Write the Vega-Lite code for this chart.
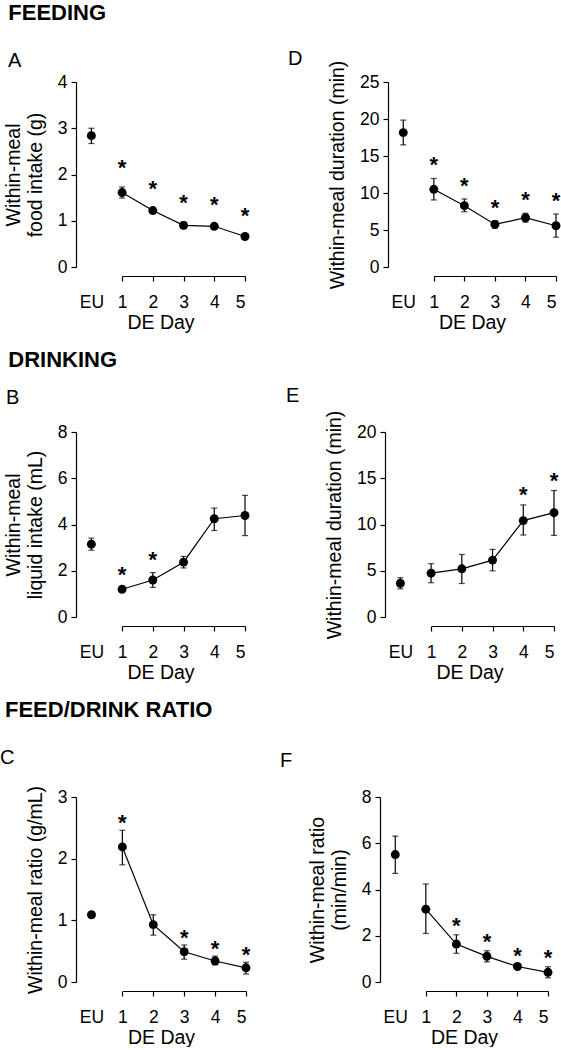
{
  "$schema": "https://vega.github.io/schema/vega-lite/v6.json",
  "padding": {"top": 2, "left": 0, "right": 0, "bottom": 0},
  "background": "white",
  "config": {
    "view": {"stroke": null},
    "font": "Liberation Sans",
    "axis": {
      "domainColor": "black", "tickColor": "black", "labelColor": "black", "titleColor": "black",
      "labelFont": "Liberation Sans", "titleFont": "Liberation Sans",
      "labelFontSize": 17.5, "titleFontSize": 19.5, "titleFontWeight": "normal",
      "grid": false, "tickSize": 5, "domainWidth": 1.2, "tickWidth": 1.2, "labelPadding": 4, "labelOverlap": false
    },
    "axisY": {"titlePadding": 12, "titleLineHeight": 22, "format": "d"},
    "axisX": {"titlePadding": 3, "labelPadding": 12},
    "title": {"font": "Liberation Sans", "color": "black"}
  },
  "datasets": {
    "A": [
      {"day": 0, "mean": 2.84, "lo": 2.67, "hi": 3.00, "sig": false},
      {"day": 1, "mean": 1.61, "lo": 1.49, "hi": 1.73, "sig": true},
      {"day": 2, "mean": 1.22, "lo": 1.17, "hi": 1.27, "sig": true},
      {"day": 3, "mean": 0.90, "lo": 0.83, "hi": 0.97, "sig": true},
      {"day": 4, "mean": 0.88, "lo": 0.83, "hi": 0.93, "sig": true},
      {"day": 5, "mean": 0.66, "lo": 0.62, "hi": 0.70, "sig": true}
    ],
    "D": [
      {"day": 0, "mean": 18.16, "lo": 16.49, "hi": 19.84, "sig": false},
      {"day": 1, "mean": 10.5, "lo": 9.06, "hi": 11.96, "sig": true},
      {"day": 2, "mean": 8.29, "lo": 7.47, "hi": 9.19, "sig": true},
      {"day": 3, "mean": 5.75, "lo": 5.25, "hi": 6.25, "sig": true},
      {"day": 4, "mean": 6.66, "lo": 6.06, "hi": 7.26, "sig": true},
      {"day": 5, "mean": 5.57, "lo": 4.03, "hi": 7.16, "sig": true}
    ],
    "B": [
      {"day": 0, "mean": 3.15, "lo": 2.89, "hi": 3.41, "sig": false},
      {"day": 1, "mean": 1.20, "lo": 1.13, "hi": 1.27, "sig": true},
      {"day": 2, "mean": 1.60, "lo": 1.28, "hi": 1.92, "sig": true},
      {"day": 3, "mean": 2.37, "lo": 2.12, "hi": 2.62, "sig": false},
      {"day": 4, "mean": 4.25, "lo": 3.74, "hi": 4.71, "sig": false},
      {"day": 5, "mean": 4.39, "lo": 3.52, "hi": 5.26, "sig": false}
    ],
    "E": [
      {"day": 0, "mean": 3.65, "lo": 3.05, "hi": 4.25, "sig": false},
      {"day": 1, "mean": 4.74, "lo": 3.71, "hi": 5.77, "sig": false},
      {"day": 2, "mean": 5.21, "lo": 3.62, "hi": 6.76, "sig": false},
      {"day": 3, "mean": 6.15, "lo": 4.99, "hi": 7.31, "sig": false},
      {"day": 4, "mean": 10.42, "lo": 8.86, "hi": 12.12, "sig": true},
      {"day": 5, "mean": 11.28, "lo": 8.82, "hi": 13.67, "sig": true}
    ],
    "C": [
      {"day": 0, "mean": 1.09, "lo": 1.06, "hi": 1.12, "sig": false},
      {"day": 1, "mean": 2.19, "lo": 1.90, "hi": 2.46, "sig": true},
      {"day": 2, "mean": 0.93, "lo": 0.76, "hi": 1.09, "sig": false},
      {"day": 3, "mean": 0.49, "lo": 0.37, "hi": 0.60, "sig": true},
      {"day": 4, "mean": 0.34, "lo": 0.28, "hi": 0.42, "sig": true},
      {"day": 5, "mean": 0.23, "lo": 0.13, "hi": 0.32, "sig": true}
    ],
    "F": [
      {"day": 0, "mean": 5.51, "lo": 4.70, "hi": 6.31, "sig": false},
      {"day": 1, "mean": 3.15, "lo": 2.10, "hi": 4.24, "sig": false},
      {"day": 2, "mean": 1.64, "lo": 1.24, "hi": 2.04, "sig": true},
      {"day": 3, "mean": 1.11, "lo": 0.87, "hi": 1.35, "sig": true},
      {"day": 4, "mean": 0.67, "lo": 0.60, "hi": 0.74, "sig": true},
      {"day": 5, "mean": 0.42, "lo": 0.18, "hi": 0.66, "sig": true}
    ]
  },
  "spacing": 17,
  "vconcat": [
    {
      "title": {"text": "FEEDING", "anchor": "start", "frame": "bounds", "dx": 5, "fontSize": 22, "fontWeight": "bold", "offset": 24},
      "bounds": "flush",
      "spacing": 143,
      "hconcat": [
        {
          "width": 169, "height": 185,
          "title": {"text": "A", "anchor": "start", "frame": "group", "dx": -68, "offset": 2, "fontSize": 20, "fontWeight": "normal"},
          "data": {"name": "A"},
          "encoding": {
            "x": {"field": "day", "type": "quantitative", "scale": {"domain": [-0.5, 5], "nice": false, "zero": false},
              "axis": {"values": [0, 1, 2, 3, 4, 5], "labelExpr": "datum.value == 0 ? 'EU' : datum.label", "tickOpacity": {"condition": {"test": "datum.value == 0", "value": 0}, "value": 1}, "title": "DE Day", "offset": 9, "domainDash": [122.91, 46.09], "domainDashOffset": 122.91}}
          },
          "layer": [
            {"transform": [{"filter": "datum.day >= 1"}], "mark": {"type": "line", "color": "black", "strokeWidth": 1.2},
              "encoding": {"y": {"field": "mean", "type": "quantitative", "title": ["Within-meal", "food intake (g)"], "scale": {"domain": [0, 4], "nice": false}, "axis": {"values": [0, 1, 2, 3, 4], "labelOverlap": false}}}},
            {"mark": {"type": "errorbar", "ticks": {"size": 6}, "color": "black", "thickness": 1.2},
              "encoding": {"y": {"field": "lo", "type": "quantitative", "title": ["Within-meal", "food intake (g)"], "axis": {"values": [0, 1, 2, 3, 4], "labelOverlap": false}}, "y2": {"field": "hi"}}},
            {"mark": {"type": "point", "filled": true, "color": "black", "size": 80, "opacity": 1},
              "encoding": {"y": {"field": "mean", "type": "quantitative", "title": ["Within-meal", "food intake (g)"], "axis": {"values": [0, 1, 2, 3, 4], "labelOverlap": false}}}},
            {"transform": [{"filter": "datum.sig"}], "mark": {"type": "text", "text": "*", "dy": -19, "fontSize": 22, "fontWeight": "bold", "baseline": "middle", "color": "black"},
              "encoding": {"y": {"field": "hi", "type": "quantitative", "title": ["Within-meal", "food intake (g)"], "axis": {"values": [0, 1, 2, 3, 4], "labelOverlap": false}}}}
          ]
        },
        {
          "width": 168, "height": 185,
          "title": {"text": "D", "anchor": "start", "frame": "group", "dx": -100, "offset": -9, "fontSize": 20, "fontWeight": "normal"},
          "data": {"name": "D"},
          "encoding": {
            "x": {"field": "day", "type": "quantitative", "scale": {"domain": [-0.5, 5], "nice": false, "zero": false},
              "axis": {"values": [0, 1, 2, 3, 4, 5], "labelExpr": "datum.value == 0 ? 'EU' : datum.label", "tickOpacity": {"condition": {"test": "datum.value == 0", "value": 0}, "value": 1}, "title": "DE Day", "offset": 9, "domainDash": [122.18, 45.82], "domainDashOffset": 122.18}}
          },
          "layer": [
            {"transform": [{"filter": "datum.day >= 1"}], "mark": {"type": "line", "color": "black", "strokeWidth": 1.2},
              "encoding": {"y": {"field": "mean", "type": "quantitative", "title": "Within-meal duration (min)", "scale": {"domain": [0, 25], "nice": false}, "axis": {"values": [0, 5, 10, 15, 20, 25], "labelOverlap": false}}}},
            {"mark": {"type": "errorbar", "ticks": {"size": 6}, "color": "black", "thickness": 1.2},
              "encoding": {"y": {"field": "lo", "type": "quantitative", "title": "Within-meal duration (min)", "axis": {"values": [0, 5, 10, 15, 20, 25], "labelOverlap": false}}, "y2": {"field": "hi"}}},
            {"mark": {"type": "point", "filled": true, "color": "black", "size": 80, "opacity": 1},
              "encoding": {"y": {"field": "mean", "type": "quantitative", "title": "Within-meal duration (min)", "axis": {"values": [0, 5, 10, 15, 20, 25], "labelOverlap": false}}}},
            {"transform": [{"filter": "datum.sig"}], "mark": {"type": "text", "text": "*", "dy": -13, "fontSize": 22, "fontWeight": "bold", "baseline": "middle", "color": "black"},
              "encoding": {"y": {"field": "hi", "type": "quantitative", "title": "Within-meal duration (min)", "axis": {"values": [0, 5, 10, 15, 20, 25], "labelOverlap": false}}}}
          ]
        }
      ]
    },
    {
      "title": {"text": "DRINKING", "anchor": "start", "frame": "bounds", "dx": 5, "fontSize": 22, "fontWeight": "bold", "offset": 14},
      "bounds": "flush",
      "spacing": 140,
      "hconcat": [
        {
          "width": 169, "height": 185,
          "title": {"text": "B", "anchor": "start", "frame": "group", "dx": -70, "offset": 15, "fontSize": 20, "fontWeight": "normal"},
          "data": {"name": "B"},
          "encoding": {
            "x": {"field": "day", "type": "quantitative", "scale": {"domain": [-0.5, 5], "nice": false, "zero": false},
              "axis": {"values": [0, 1, 2, 3, 4, 5], "labelExpr": "datum.value == 0 ? 'EU' : datum.label", "tickOpacity": {"condition": {"test": "datum.value == 0", "value": 0}, "value": 1}, "title": "DE Day", "offset": 9, "domainDash": [122.91, 46.09], "domainDashOffset": 122.91}}
          },
          "layer": [
            {"transform": [{"filter": "datum.day >= 1"}], "mark": {"type": "line", "color": "black", "strokeWidth": 1.2},
              "encoding": {"y": {"field": "mean", "type": "quantitative", "title": ["Within-meal", "liquid intake (mL)"], "scale": {"domain": [0, 8], "nice": false}, "axis": {"values": [0, 2, 4, 6, 8], "labelOverlap": false}}}},
            {"mark": {"type": "errorbar", "ticks": {"size": 6}, "color": "black", "thickness": 1.2},
              "encoding": {"y": {"field": "lo", "type": "quantitative", "title": ["Within-meal", "liquid intake (mL)"], "axis": {"values": [0, 2, 4, 6, 8], "labelOverlap": false}}, "y2": {"field": "hi"}}},
            {"mark": {"type": "point", "filled": true, "color": "black", "size": 80, "opacity": 1},
              "encoding": {"y": {"field": "mean", "type": "quantitative", "title": ["Within-meal", "liquid intake (mL)"], "axis": {"values": [0, 2, 4, 6, 8], "labelOverlap": false}}}},
            {"transform": [{"filter": "datum.sig"}], "mark": {"type": "text", "text": "*", "dy": -13, "fontSize": 22, "fontWeight": "bold", "baseline": "middle", "color": "black"},
              "encoding": {"y": {"field": "hi", "type": "quantitative", "title": ["Within-meal", "liquid intake (mL)"], "axis": {"values": [0, 2, 4, 6, 8], "labelOverlap": false}}}}
          ]
        },
        {
          "width": 169, "height": 185,
          "title": {"text": "E", "anchor": "start", "frame": "group", "dx": -99, "offset": 4, "fontSize": 20, "fontWeight": "normal"},
          "data": {"name": "E"},
          "encoding": {
            "x": {"field": "day", "type": "quantitative", "scale": {"domain": [-0.5, 5], "nice": false, "zero": false},
              "axis": {"values": [0, 1, 2, 3, 4, 5], "labelExpr": "datum.value == 0 ? 'EU' : datum.label", "tickOpacity": {"condition": {"test": "datum.value == 0", "value": 0}, "value": 1}, "title": "DE Day", "offset": 9, "domainDash": [122.91, 46.09], "domainDashOffset": 122.91}}
          },
          "layer": [
            {"transform": [{"filter": "datum.day >= 1"}], "mark": {"type": "line", "color": "black", "strokeWidth": 1.2},
              "encoding": {"y": {"field": "mean", "type": "quantitative", "title": "Within-meal duration (min)", "scale": {"domain": [0, 20], "nice": false}, "axis": {"values": [0, 5, 10, 15, 20], "labelOverlap": false}}}},
            {"mark": {"type": "errorbar", "ticks": {"size": 6}, "color": "black", "thickness": 1.2},
              "encoding": {"y": {"field": "lo", "type": "quantitative", "title": "Within-meal duration (min)", "axis": {"values": [0, 5, 10, 15, 20], "labelOverlap": false}}, "y2": {"field": "hi"}}},
            {"mark": {"type": "point", "filled": true, "color": "black", "size": 80, "opacity": 1},
              "encoding": {"y": {"field": "mean", "type": "quantitative", "title": "Within-meal duration (min)", "axis": {"values": [0, 5, 10, 15, 20], "labelOverlap": false}}}},
            {"transform": [{"filter": "datum.sig"}], "mark": {"type": "text", "text": "*", "dy": -10, "fontSize": 22, "fontWeight": "bold", "baseline": "middle", "color": "black"},
              "encoding": {"y": {"field": "hi", "type": "quantitative", "title": "Within-meal duration (min)", "axis": {"values": [0, 5, 10, 15, 20], "labelOverlap": false}}}}
          ]
        }
      ]
    },
    {
      "title": {"text": "FEED/DRINK RATIO", "anchor": "start", "frame": "bounds", "dx": 5, "fontSize": 22, "fontWeight": "bold", "offset": 26},
      "bounds": "flush",
      "spacing": 134,
      "hconcat": [
        {
          "width": 170, "height": 185,
          "title": {"text": "C", "anchor": "start", "frame": "group", "dx": -76, "offset": 17, "fontSize": 20, "fontWeight": "normal"},
          "data": {"name": "C"},
          "encoding": {
            "x": {"field": "day", "type": "quantitative", "scale": {"domain": [-0.5, 5], "nice": false, "zero": false},
              "axis": {"values": [0, 1, 2, 3, 4, 5], "labelExpr": "datum.value == 0 ? 'EU' : datum.label", "tickOpacity": {"condition": {"test": "datum.value == 0", "value": 0}, "value": 1}, "title": "DE Day", "offset": 9, "domainDash": [123.64, 46.36], "domainDashOffset": 123.64}}
          },
          "layer": [
            {"transform": [{"filter": "datum.day >= 1"}], "mark": {"type": "line", "color": "black", "strokeWidth": 1.2},
              "encoding": {"y": {"field": "mean", "type": "quantitative", "title": "Within-meal ratio (g/mL)", "scale": {"domain": [0, 3], "nice": false}, "axis": {"values": [0, 1, 2, 3], "labelOverlap": false}}}},
            {"mark": {"type": "errorbar", "ticks": {"size": 6}, "color": "black", "thickness": 1.2},
              "encoding": {"y": {"field": "lo", "type": "quantitative", "title": "Within-meal ratio (g/mL)", "axis": {"values": [0, 1, 2, 3], "labelOverlap": false}}, "y2": {"field": "hi"}}},
            {"mark": {"type": "point", "filled": true, "color": "black", "size": 80, "opacity": 1},
              "encoding": {"y": {"field": "mean", "type": "quantitative", "title": "Within-meal ratio (g/mL)", "axis": {"values": [0, 1, 2, 3], "labelOverlap": false}}}},
            {"transform": [{"filter": "datum.sig"}], "mark": {"type": "text", "text": "*", "dy": -7, "fontSize": 22, "fontWeight": "bold", "baseline": "middle", "color": "black"},
              "encoding": {"y": {"field": "hi", "type": "quantitative", "title": "Within-meal ratio (g/mL)", "axis": {"values": [0, 1, 2, 3], "labelOverlap": false}}}}
          ]
        },
        {
          "width": 168, "height": 185,
          "title": {"text": "F", "anchor": "start", "frame": "group", "dx": -100, "offset": 17, "fontSize": 20, "fontWeight": "normal"},
          "data": {"name": "F"},
          "encoding": {
            "x": {"field": "day", "type": "quantitative", "scale": {"domain": [-0.5, 5], "nice": false, "zero": false},
              "axis": {"values": [0, 1, 2, 3, 4, 5], "labelExpr": "datum.value == 0 ? 'EU' : datum.label", "tickOpacity": {"condition": {"test": "datum.value == 0", "value": 0}, "value": 1}, "title": "DE Day", "offset": 9, "domainDash": [122.18, 45.82], "domainDashOffset": 122.18}}
          },
          "layer": [
            {"transform": [{"filter": "datum.day >= 1"}], "mark": {"type": "line", "color": "black", "strokeWidth": 1.2},
              "encoding": {"y": {"field": "mean", "type": "quantitative", "title": ["Within-meal ratio", "(min/min)"], "scale": {"domain": [0, 8], "nice": false}, "axis": {"values": [0, 2, 4, 6, 8], "labelOverlap": false}}}},
            {"mark": {"type": "errorbar", "ticks": {"size": 6}, "color": "black", "thickness": 1.2},
              "encoding": {"y": {"field": "lo", "type": "quantitative", "title": ["Within-meal ratio", "(min/min)"], "axis": {"values": [0, 2, 4, 6, 8], "labelOverlap": false}}, "y2": {"field": "hi"}}},
            {"mark": {"type": "point", "filled": true, "color": "black", "size": 80, "opacity": 1},
              "encoding": {"y": {"field": "mean", "type": "quantitative", "title": ["Within-meal ratio", "(min/min)"], "axis": {"values": [0, 2, 4, 6, 8], "labelOverlap": false}}}},
            {"transform": [{"filter": "datum.sig"}], "mark": {"type": "text", "text": "*", "dy": -9, "fontSize": 22, "fontWeight": "bold", "baseline": "middle", "color": "black"},
              "encoding": {"y": {"field": "hi", "type": "quantitative", "title": ["Within-meal ratio", "(min/min)"], "axis": {"values": [0, 2, 4, 6, 8], "labelOverlap": false}}}}
          ]
        }
      ]
    }
  ]
}
